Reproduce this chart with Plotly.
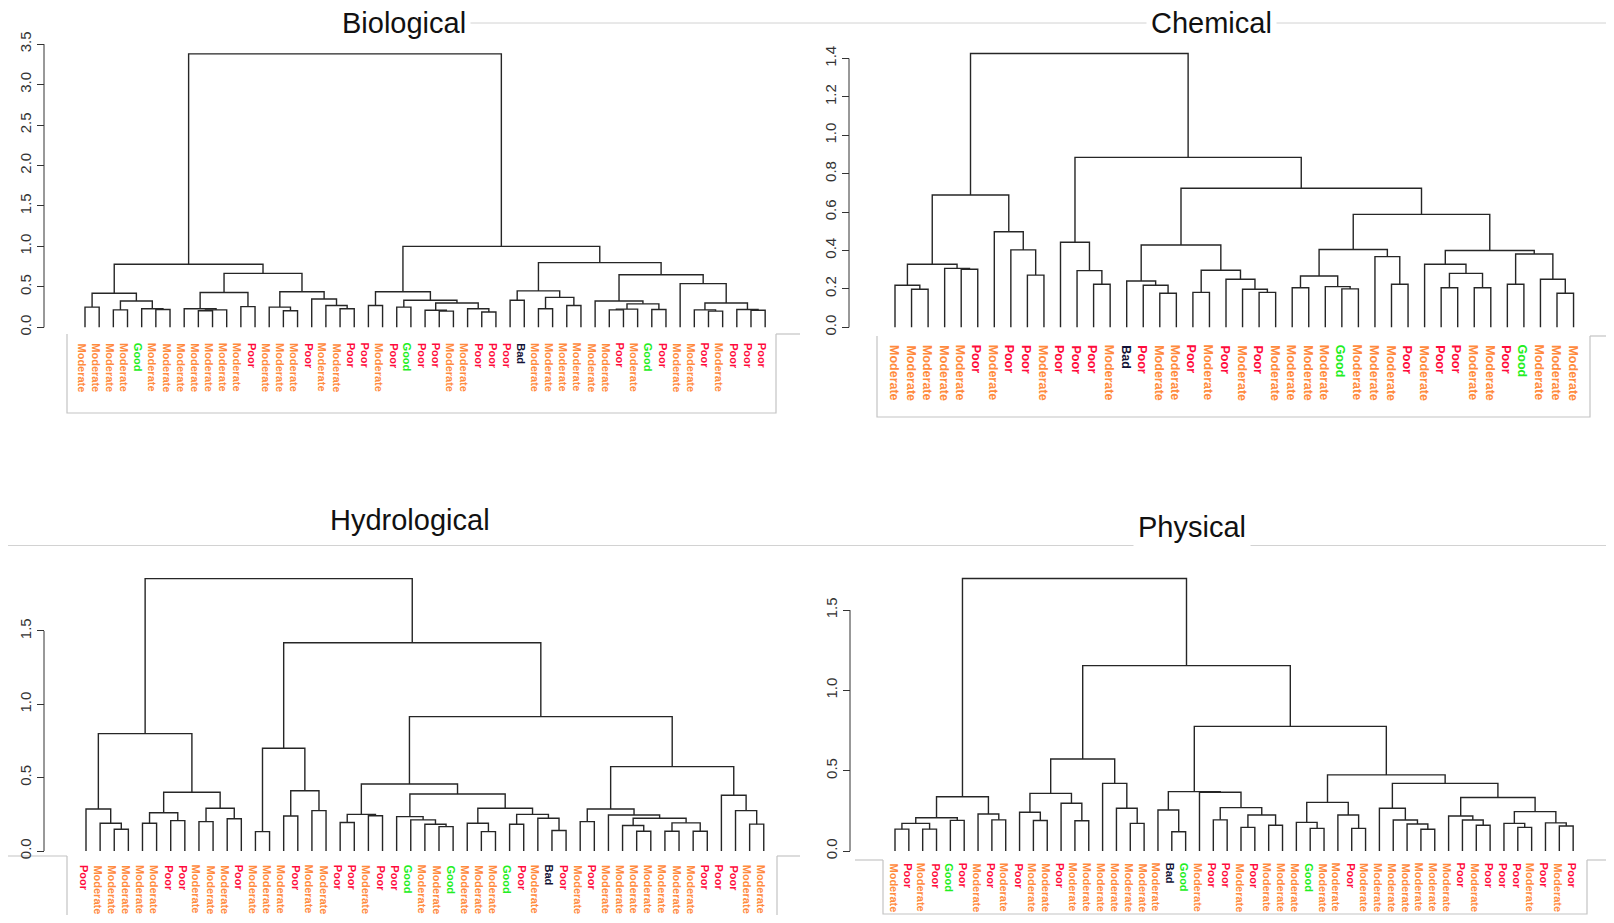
import plotly.graph_objects as go

W, H = 1614, 923          # browser window
OFF = 8                   # page body margin
FW, FH = W - 2 * OFF, H - 2 * OFF

# ---------------- data ----------------
titles = ["Biological", "Chemical", "Hydrological", "Physical"]

bio_labels = ["Moderate", "Moderate", "Moderate", "Moderate", "Good", "Moderate", "Moderate",
              "Moderate", "Moderate", "Moderate", "Moderate", "Moderate", "Poor", "Moderate",
              "Moderate", "Moderate", "Poor", "Moderate", "Moderate", "Poor", "Poor", "Moderate",
              "Poor", "Good", "Poor", "Poor", "Moderate", "Moderate", "Poor", "Poor", "Poor", "Bad",
              "Moderate", "Moderate", "Moderate", "Moderate", "Moderate", "Moderate", "Poor",
              "Moderate", "Good", "Poor", "Moderate", "Moderate", "Poor", "Moderate", "Poor",
              "Poor", "Poor"]
# merge height between each pair of neighbouring leaves (cophenetic height)
bio_heights = [0.25, 0.42, 0.215, 0.325, 0.23, 0.22, 0.78, 0.23, 0.205, 0.215, 0.43, 0.255,
               0.667, 0.25, 0.205, 0.44, 0.35, 0.27, 0.23, 3.38, 0.27, 0.44, 0.25, 0.335, 0.21,
               0.20, 0.30, 0.23, 0.19, 1.0, 0.335, 0.45, 0.23, 0.37, 0.27, 0.80, 0.325, 0.215,
               0.225, 0.29, 0.22, 0.65, 0.54, 0.215, 0.20, 0.30, 0.22, 0.21]
bio_ticks = [0.0, 0.5, 1.0, 1.5, 2.0, 2.5, 3.0, 3.5]

chem_labels = ["Moderate", "Moderate", "Moderate", "Moderate", "Moderate", "Poor", "Moderate",
               "Poor", "Poor", "Moderate", "Poor", "Poor", "Poor", "Moderate", "Bad", "Poor",
               "Moderate", "Moderate", "Poor", "Moderate", "Poor", "Moderate", "Poor", "Moderate",
               "Moderate", "Moderate", "Moderate", "Good", "Moderate", "Moderate", "Moderate",
               "Poor", "Moderate", "Poor", "Poor", "Moderate", "Moderate", "Poor", "Good",
               "Moderate", "Moderate", "Moderate"]
chem_heights = [0.219, 0.198, 0.328, 0.307, 0.302, 0.689, 0.498, 0.403, 0.272, 1.426, 0.443,
                0.295, 0.224, 0.885, 0.241, 0.219, 0.177, 0.429, 0.182, 0.297, 0.25, 0.198,
                0.182, 0.724, 0.206, 0.267, 0.212, 0.20, 0.405, 0.368, 0.224, 0.588, 0.328,
                0.206, 0.281, 0.206, 0.40, 0.224, 0.382, 0.25, 0.177]
chem_ticks = [0.0, 0.2, 0.4, 0.6, 0.8, 1.0, 1.2, 1.4]

hydro_labels = ["Poor", "Moderate", "Moderate", "Moderate", "Moderate", "Moderate", "Poor",
                "Poor", "Moderate", "Moderate", "Moderate", "Poor", "Moderate", "Moderate",
                "Moderate", "Poor", "Moderate", "Moderate", "Poor", "Poor", "Moderate", "Poor",
                "Poor", "Good", "Moderate", "Moderate", "Good", "Moderate", "Moderate", "Moderate",
                "Good", "Poor", "Moderate", "Bad", "Poor", "Moderate", "Poor", "Moderate",
                "Moderate", "Moderate", "Moderate", "Moderate", "Moderate", "Moderate", "Poor",
                "Poor", "Poor", "Moderate", "Moderate"]
hydro_heights = [0.286, 0.189, 0.148, 0.80, 0.189, 0.261, 0.207, 0.40, 0.20, 0.291, 0.22,
                 1.857, 0.132, 0.70, 0.239, 0.411, 0.275, 1.42, 0.194, 0.25, 0.24, 0.457,
                 0.234, 0.212, 0.182, 0.166, 0.389, 0.189, 0.132, 0.291, 0.182, 0.25, 0.223,
                 0.14, 0.916, 0.20, 0.286, 0.245, 0.174, 0.135, 0.223, 0.135, 0.192, 0.135,
                 0.575, 0.38, 0.275, 0.183]
hydro_ticks = [0.0, 0.5, 1.0, 1.5]

phys_labels = ["Moderate", "Poor", "Moderate", "Poor", "Good", "Poor", "Moderate", "Poor",
               "Moderate", "Poor", "Moderate", "Moderate", "Poor", "Moderate", "Moderate",
               "Moderate", "Moderate", "Moderate", "Moderate", "Moderate", "Bad", "Good",
               "Moderate", "Poor", "Poor", "Moderate", "Poor", "Moderate", "Moderate", "Moderate",
               "Good", "Moderate", "Moderate", "Poor", "Moderate", "Moderate", "Moderate",
               "Moderate", "Moderate", "Moderate", "Moderate", "Poor", "Moderate", "Poor", "Poor",
               "Poor", "Moderate", "Poor", "Moderate", "Poor"]
phys_heights = [0.136, 0.172, 0.136, 0.207, 0.191, 0.338, 0.23, 0.194, 1.697, 0.241, 0.19,
                0.359, 0.297, 0.188, 0.573, 0.421, 0.266, 0.172, 1.154, 0.255, 0.12, 0.37,
                0.366, 0.194, 0.27, 0.147, 0.224, 0.16, 0.776, 0.178, 0.141, 0.303, 0.224,
                0.141, 0.474, 0.266, 0.193, 0.168, 0.135, 0.421, 0.218, 0.193, 0.16, 0.333,
                0.172, 0.147, 0.245, 0.175, 0.156]
phys_ticks = [0.0, 0.5, 1.0, 1.5]

label_colors = {"Moderate": "#FF8A3D", "Poor": "#FF0A3C", "Good": "#22EE22", "Bad": "#121236"}

# ---------------- layout geometry (window pixels) ----------------
panels = [
    dict(labels=bio_labels, heights=bio_heights, ticks=bio_ticks, title=titles[0],
         leaf0=85.0, step=14.17, base=327.3, ppu=80.9, top=30, bottom=340, left=60, right=790,
         axis_x=44, title_xy=(404, 23), label_top=342, label_size=11, label_dx=-3,
         box=dict(l=67, t=334, r=776, b=413, ext_l=None, ext_r=800)),
    dict(labels=chem_labels, heights=chem_heights, ticks=chem_ticks, title=titles[1],
         leaf0=895.0, step=16.55, base=327.3, ppu=192.0, top=30, bottom=340, left=860, right=1600,
         axis_x=849, title_xy=(1211, 23), label_top=344, label_size=12.5, label_dx=-1,
         box=dict(l=877, t=336, r=1590, b=417, ext_l=None, ext_r=1614)),
    dict(labels=hydro_labels, heights=hydro_heights, ticks=hydro_ticks, title=titles[2],
         leaf0=86.0, step=14.12, base=851.0, ppu=146.7, top=560, bottom=862, left=60, right=790,
         axis_x=44, title_xy=(410, 520), label_top=864, label_size=11, label_dx=-2,
         box=dict(l=67, t=856, r=777, b=None, ext_l=8, ext_r=800)),
    dict(labels=phys_labels, heights=phys_heights, ticks=phys_ticks, title=titles[3],
         leaf0=895.0, step=13.84, base=851.0, ppu=160.6, top=560, bottom=862, left=860, right=1600,
         axis_x=850, title_xy=(1192, 527), label_top=862, label_size=11, label_dx=-1,
         box=dict(l=883, t=860, r=1587, b=914, ext_l=855, ext_r=1614)),
]


def px(x):
    return (x - OFF) / FW


def py(y):
    return 1 - (y - OFF) / FH


def build(heights, lo, hi, xs, ys):
    """Recursively build the ordered dendrogram from neighbour merge heights."""
    if lo == hi:
        return float(lo), 0.0
    sub = heights[lo:hi]
    k = lo + max(range(len(sub)), key=lambda j: sub[j])
    xl, hl = build(heights, lo, k, xs, ys)
    xr, hr = build(heights, k + 1, hi, xs, ys)
    h = heights[k]
    xs += [xl, xl, xr, xr, None]
    ys += [hl, h, h, hr, None]
    return (xl + xr) / 2, h


fig = go.Figure()
annotations = []
shapes = []
layout_axes = {}
line_color = "#262626"
box_color = "#c4c4c4"

for n, p in enumerate(panels, start=1):
    xa, ya = f"x{n}", f"y{n}"
    xs, ys = [], []
    nleaf = len(p["labels"])
    build(p["heights"], 0, nleaf - 1, xs, ys)
    fig.add_trace(go.Scatter(x=xs, y=ys, mode="lines", xaxis=xa, yaxis=ya,
                             line=dict(color=line_color, width=1.4),
                             hoverinfo="skip", showlegend=False))

    x_rng = [(p["left"] - p["leaf0"]) / p["step"], (p["right"] - p["leaf0"]) / p["step"]]
    y_rng = [(p["base"] - p["bottom"]) / p["ppu"], (p["base"] - p["top"]) / p["ppu"]]
    sfx = "" if n == 1 else str(n)
    layout_axes["xaxis" + sfx] = dict(domain=[px(p["left"]), min(1, px(p["right"]))], range=x_rng,
                                      visible=False, anchor=ya, fixedrange=True)
    layout_axes["yaxis" + sfx] = dict(domain=[py(p["bottom"]), py(p["top"])], range=y_rng,
                                      anchor="free", position=px(p["axis_x"]), side="left",
                                      showgrid=False, zeroline=False, showline=False,
                                      ticks="outside", ticklen=7, tickwidth=1, tickcolor="#333",
                                      tickvals=p["ticks"],
                                      ticktext=[f"{t:.1f}" for t in p["ticks"]],
                                      tickangle=-90,
                                      tickfont=dict(family="Liberation Sans", size=15, color="#333"),
                                      fixedrange=True)
    # R-style axis line from first to last tick
    shapes.append(dict(type="line", xref="paper", yref=ya,
                       x0=px(p["axis_x"]), x1=px(p["axis_x"]),
                       y0=p["ticks"][0], y1=p["ticks"][-1],
                       line=dict(color="#333", width=1)))

    # leaf labels
    for i, lab in enumerate(p["labels"]):
        annotations.append(dict(text=lab, x=i, xref=xa, y=py(p["label_top"]), yref="paper",
                                textangle=90, xanchor="center", yanchor="top", showarrow=False,
                                xshift=p["label_dx"], borderpad=0,
                                font=dict(family="Liberation Sans", size=p["label_size"],
                                          color=label_colors[lab], weight="bold")))

    # title
    tx, ty = p["title_xy"]
    annotations.append(dict(text=p["title"], x=px(tx), y=py(ty), xref="paper", yref="paper",
                            xanchor="center", yanchor="middle", showarrow=False,
                            bgcolor="white", borderpad=4,
                            font=dict(family="Liberation Sans", size=29, color="#111")))

    # label box outline
    b = p["box"]
    bottom = b["b"] if b["b"] is not None else H
    path = f"M {px(b['l'])},{py(b['t'])} L {px(b['l'])},{py(bottom)} " \
           f"L {px(b['r'])},{py(bottom)} L {px(b['r'])},{py(b['t'])}"
    shapes.append(dict(type="path", xref="paper", yref="paper", path=path,
                       line=dict(color=box_color, width=1.2), layer="below"))
    if b["ext_r"] is not None:
        shapes.append(dict(type="line", xref="paper", yref="paper",
                           x0=px(b["r"]), x1=min(1, px(b["ext_r"])), y0=py(b["t"]), y1=py(b["t"]),
                           line=dict(color=box_color, width=1.2), layer="below"))
    if b["ext_l"] is not None:
        shapes.append(dict(type="line", xref="paper", yref="paper",
                           x0=px(b["ext_l"]), x1=px(b["l"]), y0=py(b["t"]), y1=py(b["t"]),
                           line=dict(color=box_color, width=1.2), layer="below"))

# separator lines of the composite
shapes.append(dict(type="line", xref="paper", yref="paper", x0=px(468), x1=1,
                   y0=py(23), y1=py(23), line=dict(color="#d2d2d2", width=1), layer="below"))
shapes.append(dict(type="line", xref="paper", yref="paper", x0=0, x1=1,
                   y0=py(545.5), y1=py(545.5), line=dict(color="#d2d2d2", width=1),
                   layer="below"))

fig.update_layout(width=FW, height=FH, margin=dict(l=0, r=0, t=0, b=0),
                  paper_bgcolor="white", plot_bgcolor="rgba(0,0,0,0)",
                  showlegend=False, annotations=annotations, shapes=shapes,
                  **layout_axes)

fig.write_html("out.html")
